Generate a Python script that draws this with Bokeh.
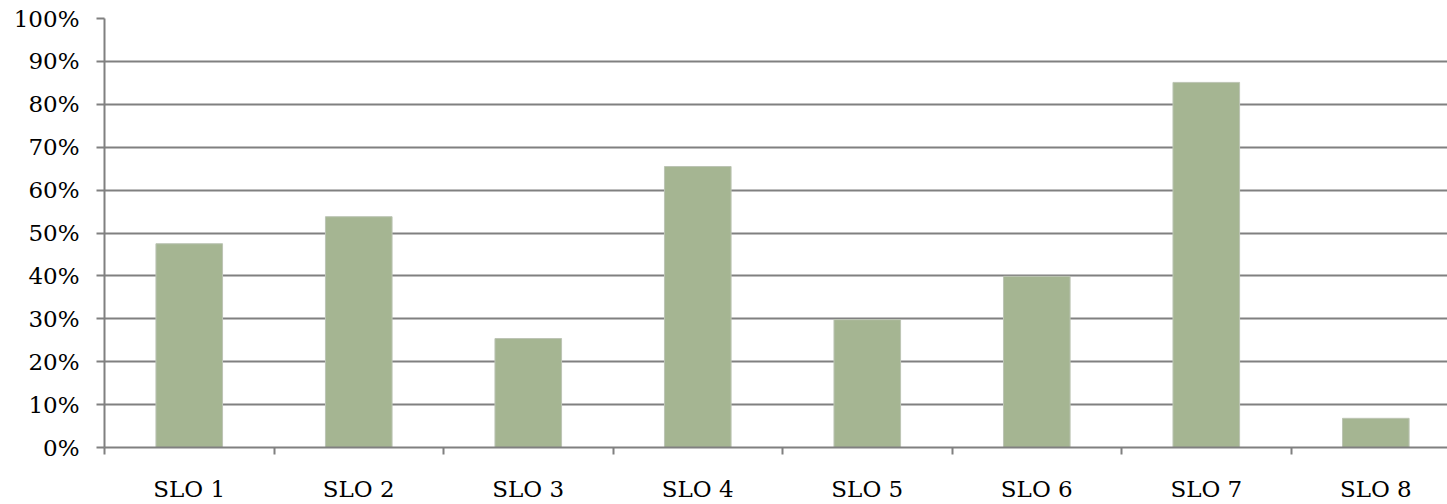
from bokeh.plotting import figure
from bokeh.models import Range1d, FixedTicker, NumeralTickFormatter
from bokeh.embed import file_html
from bokeh.resources import INLINE

categories = ["SLO 1", "SLO 2", "SLO 3", "SLO 4", "SLO 5", "SLO 6", "SLO 7", "SLO 8"]
values = [0.475, 0.538, 0.254, 0.655, 0.298, 0.399, 0.851, 0.068]
y_ticks = [0.0, 0.1, 0.2, 0.3, 0.4, 0.5, 0.6, 0.7, 0.8, 0.9, 1.0]

centers = [i + 0.5 for i in range(len(categories))]
bounds = [float(i) for i in range(len(categories) + 1)]

FONT = "DejaVu Serif"
GRAY = "#808080"

p = figure(width=1447, height=504, output_backend="svg", toolbar_location=None,
           x_range=Range1d(0, 7.923), y_range=Range1d(0, 1),
           min_border_left=104, min_border_top=18, min_border_right=0, min_border_bottom=57)
p.outline_line_color = None
p.background_fill_color = "white"

p.vbar(x=centers, top=values, width=0.393, bottom=0,
       fill_color="#a5b592", line_color="#bcc4b4", line_width=1)

# x axis: labels at category centres, tick marks at category boundaries
xa = p.xaxis[0]
xa.ticker = FixedTicker(ticks=centers, minor_ticks=bounds)
xa.major_label_overrides = {c: lab for c, lab in zip(centers, categories)}
xa.major_tick_out = 0
xa.major_tick_in = 0
xa.minor_tick_out = 7
xa.minor_tick_in = 0
xa.minor_tick_line_color = GRAY
xa.minor_tick_line_width = 2
xa.axis_line_color = GRAY
xa.axis_line_width = 2
xa.major_label_text_font = FONT
xa.major_label_text_font_size = "23px"
xa.major_label_text_color = "black"
xa.major_label_standoff = 21

ya = p.yaxis[0]
ya.ticker = FixedTicker(ticks=y_ticks)
ya.formatter = NumeralTickFormatter(format="0%")
ya.major_tick_out = 8
ya.major_tick_in = 0
ya.minor_tick_out = 0
ya.minor_tick_in = 0
ya.major_tick_line_color = GRAY
ya.major_tick_line_width = 2
ya.axis_line_color = GRAY
ya.axis_line_width = 2
ya.major_label_text_font = FONT
ya.major_label_text_font_size = "23px"
ya.major_label_text_color = "black"
ya.major_label_standoff = 17

p.xgrid.visible = False
p.ygrid.ticker = FixedTicker(ticks=y_ticks)
p.ygrid.grid_line_color = GRAY
p.ygrid.grid_line_width = 2

open("out.html", "w").write(file_html(p, INLINE))
